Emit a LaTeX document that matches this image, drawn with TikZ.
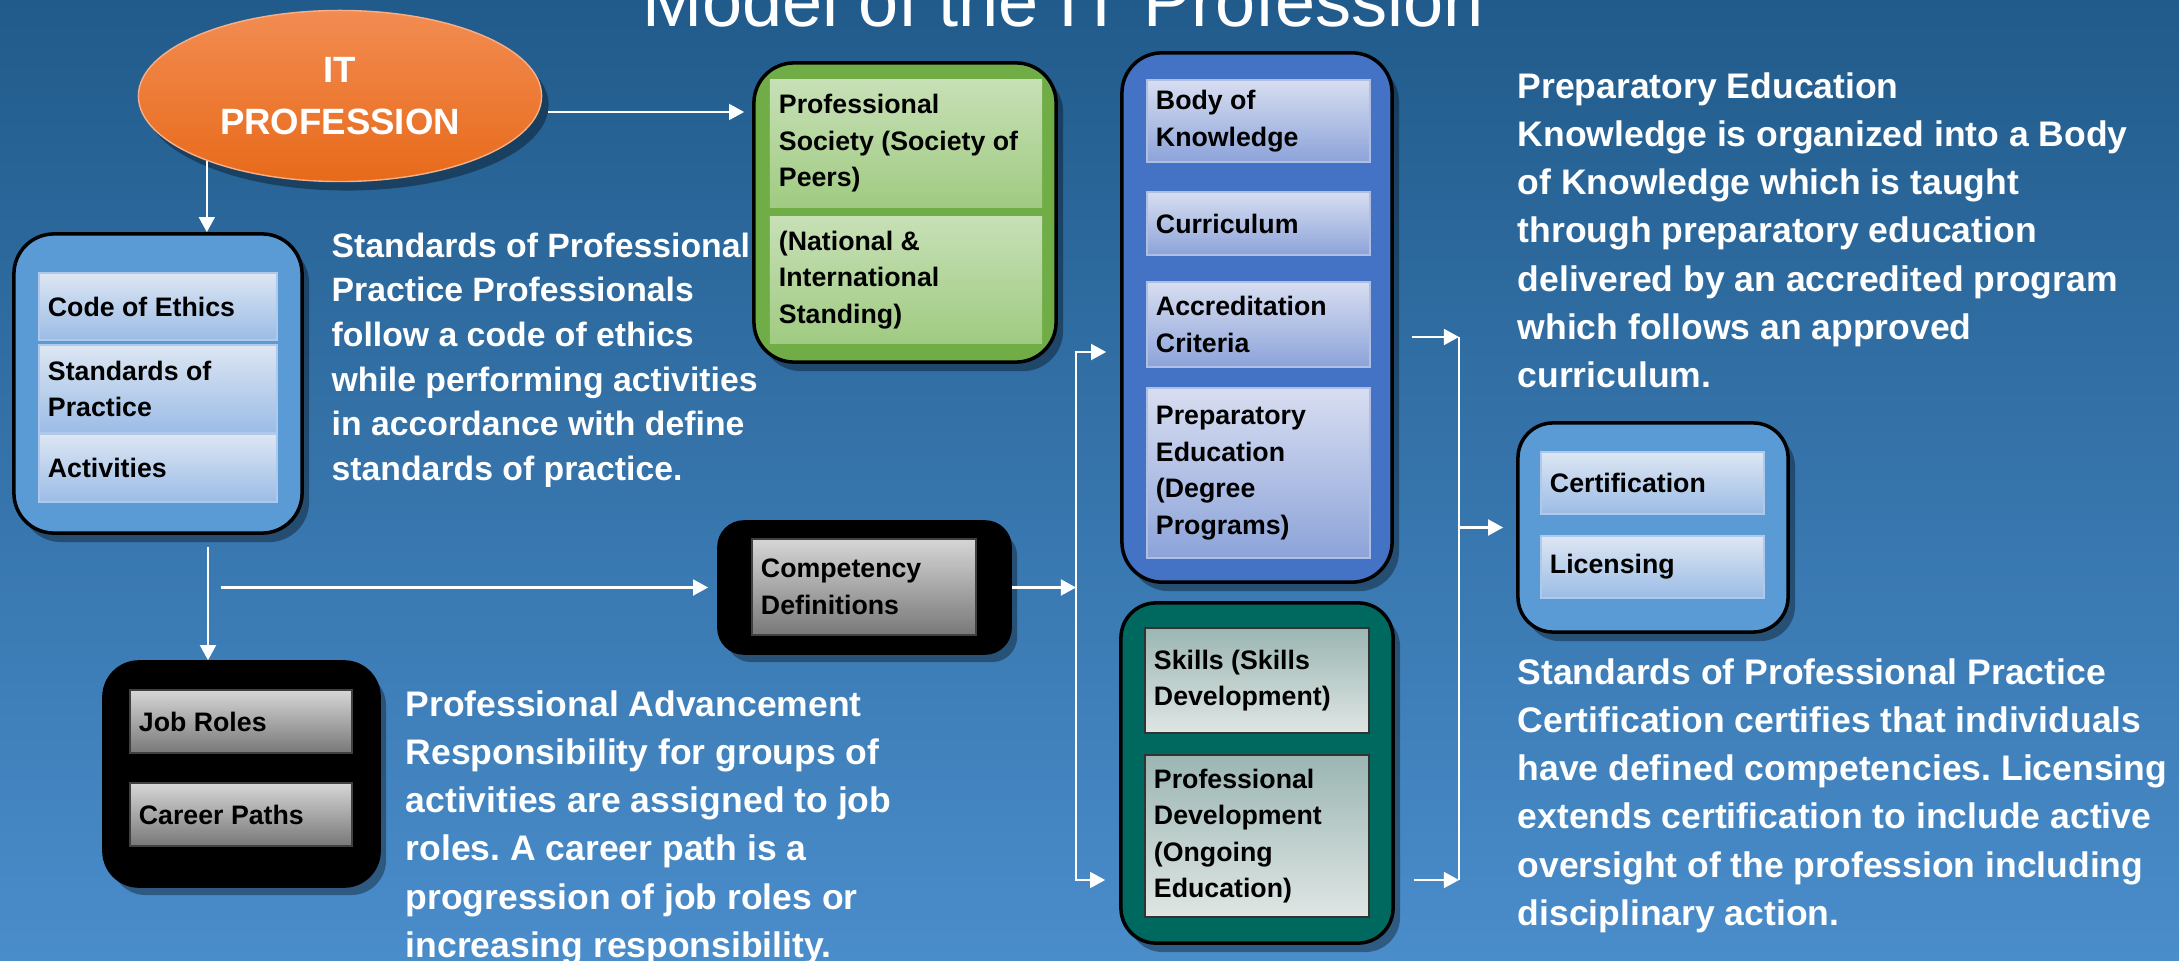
\documentclass[tikz,border=0pt]{standalone}
\usepackage{fontspec}
\setmainfont{Liberation Sans}
\usetikzlibrary{shapes.geometric, arrows.meta, shadows}

\definecolor{bgtop}{HTML}{215B8B}
\definecolor{bgbottom}{HTML}{4A8DCB}
\definecolor{orangetop}{HTML}{F28C52}
\definecolor{orangebottom}{HTML}{E86A1A}
\definecolor{paleblue}{HTML}{5B9BD5}
\definecolor{lighttop}{HTML}{DDE6F3}
\definecolor{lightbottom}{HTML}{9BBCE6}
\definecolor{socgreen}{HTML}{70AD47}
\definecolor{greentop}{HTML}{C7E0B6}
\definecolor{greenbottom}{HTML}{A0CB82}
\definecolor{knowblue}{HTML}{4472C4}
\definecolor{lilactop}{HTML}{D8DEF1}
\definecolor{lilacbottom}{HTML}{8CA3D9}
\definecolor{greytop}{HTML}{D6D6D6}
\definecolor{greybottom}{HTML}{787878}
\definecolor{skillteal}{HTML}{00695F}
\definecolor{tealtop}{HTML}{9BB6B3}
\definecolor{tealbottom}{HTML}{DFE6E4}

% no hyphenation inside the boxes
\hyphenpenalty=10000
\exhyphenpenalty=10000
\frenchspacing

\begin{document}
\begin{tikzpicture}[x=0.01cm, y=-0.01cm,
  group/.style={draw=black, line width=1pt, rounded corners=0.4cm,
    drop shadow={shadow xshift=0.07cm, shadow yshift=-0.09cm, opacity=0.35, fill=black}},
  item/.style={rectangle, align=flush left, inner xsep=0.09cm, inner ysep=0,
    font=\bfseries\fontsize{7.6}{10.4}\selectfont},
  lightitem/.style={item, top color=lighttop, bottom color=lightbottom, draw=lightbottom!80!white, line width=0.4pt},
  greenitem/.style={item, top color=greentop, bottom color=greenbottom},
  lilacitem/.style={item, top color=lilactop, bottom color=lilacbottom, draw=lilacbottom!70!white, line width=0.4pt},
  greyitem/.style={item, top color=greytop, bottom color=greybottom, draw=black!75, line width=0.6pt},
  tealitem/.style={item, top color=tealtop, bottom color=tealbottom, draw=black!80, line width=0.6pt},
  note/.style={anchor=north west, align=left, inner sep=0, text=white,
    font=\bfseries\fontsize{10.1}{13.7}\selectfont},
  link/.style={draw=white, line width=0.7pt, -{Triangle[length=4.3pt, width=4.5pt]}}
]
  % background and page size
  \path[top color=bgtop, bottom color=bgbottom] (0,0) rectangle (2179,961);
  \useasboundingbox (0,0) rectangle (2179,961);

  \node[anchor=base, text=white, font=\fontsize{20.5}{24}\selectfont] (title) at (1063,27) {Model of the IT Profession};

  \node[ellipse, minimum width=4.03cm, minimum height=1.71cm, inner sep=0,
    top color=orangetop, bottom color=orangebottom, draw=orangetop!70!white,
    drop shadow={shadow xshift=0.07cm, shadow yshift=-0.09cm, opacity=0.35, fill=black},
    text=white, align=center, font=\bfseries\fontsize{10.4}{14.8}\selectfont] (itpro) at (340,96) {IT\\PROFESSION};

  % code of ethics group
  \node[group, fill=paleblue, minimum width=2.88cm, minimum height=2.99cm] (ethics) at (158,383.5) {};
  \node[lightitem, text width=2.2cm, minimum height=0.67cm] (code) at (158,306.5) {Code of Ethics};
  \node[lightitem, text width=2.2cm, minimum height=0.88cm] (practice) at (158,389) {Standards of Practice};
  \node[lightitem, text width=2.2cm, minimum height=0.68cm] (activities) at (158,468) {Activities};

  % professional society
  \node[group, fill=socgreen, minimum width=3.02cm, minimum height=2.99cm] (society) at (905,212.5) {};
  \node[greenitem, text width=2.54cm, minimum height=1.27cm] (peers) at (906,143.5) {Professional Society (Society of Peers)};
  \node[greenitem, text width=2.54cm, minimum height=1.26cm] (standing) at (906,280) {(National \& International Standing)};

  % preparatory education
  \node[group, fill=knowblue, minimum width=2.70cm, minimum height=5.29cm] (know) at (1257,317.5) {};
  \node[lilacitem, text width=2.05cm, minimum height=0.82cm] (body) at (1258.5,121) {Body of Knowledge};
  \node[lilacitem, text width=2.05cm, minimum height=0.63cm] (curric) at (1258.5,223.5) {Curriculum};
  \node[lilacitem, text width=2.05cm, minimum height=0.85cm] (accred) at (1258.5,324.5) {Accreditation Criteria};
  \node[lilacitem, text width=2.05cm, minimum height=1.70cm] (degree) at (1258.5,473) {Preparatory Education (Degree Programs)};

  % competencies
  \node[group, fill=black, rounded corners=0.25cm, minimum width=2.91cm, minimum height=1.31cm] (comp) at (864.5,587.5) {};
  \node[greyitem, text width=2.06cm, minimum height=0.96cm] (compdef) at (864,587) {Competency Definitions};

  % advancement
  \node[group, fill=black, rounded corners=0.35cm, minimum width=2.75cm, minimum height=2.24cm] (jobs) at (241.5,774) {};
  \node[greyitem, text width=2.04cm, minimum height=0.63cm] (roles) at (241,721.5) {Job Roles};
  \node[greyitem, text width=2.04cm, minimum height=0.63cm] (paths) at (241,814.5) {Career Paths};

  % ongoing skills
  \node[group, fill=skillteal, rounded corners=0.35cm, minimum width=2.72cm, minimum height=3.40cm] (skill) at (1257,773) {};
  \node[tealitem, text width=2.06cm, minimum height=1.05cm] (skills) at (1257,680.5) {Skills (Skills Development)};
  \node[tealitem, text width=2.06cm, minimum height=1.62cm] (profdev) at (1257,836) {Professional Development (Ongoing Education)};

  % certification and licensing
  \node[group, fill=paleblue, rounded corners=0.35cm, minimum width=2.70cm, minimum height=2.09cm] (cert) at (1653,527.5) {};
  \node[lightitem, text width=2.05cm, minimum height=0.62cm] (certif) at (1652.5,483) {Certification};
  \node[lightitem, text width=2.05cm, minimum height=0.62cm] (licens) at (1652.5,567) {Licensing};

  % descriptions
  \node[note, font=\bfseries\fontsize{9.6}{12.7}\selectfont] (ethicsnote) at (331,232)
    {Standards of Professional\\Practice Professionals\\follow a code of ethics\\while performing activities\\in accordance with define\\standards of practice.};
  \node[note] (prepnote) at (1517,72)
    {Preparatory Education\\Knowledge is organized into a Body\\of Knowledge which is taught\\through preparatory education\\delivered by an accredited program\\which follows an approved\\curriculum.};
  \node[note] (certnote) at (1517,658)
    {Standards of Professional Practice\\Certification certifies that individuals\\have defined competencies. Licensing\\extends certification to include active\\oversight of the profession including\\disciplinary action.};
  \node[note] (jobsnote) at (405,690)
    {Professional Advancement\\Responsibility for groups of\\activities are assigned to job\\roles. A career path is a\\progression of job roles or\\increasing responsibility.};

  % connectors
  \coordinate (split) at (208,547);
  \coordinate (lt) at (1076,352);
  \coordinate (lb) at (1076,880);
  \coordinate (rt) at (1459,337);
  \coordinate (rb) at (1459,880);

  \draw[link] ([xshift=0.06cm]itpro.east |- 0,112) -- ([xshift=-0.08cm]society.west |- 0,112);
  \draw[link] (itpro.206) -- (itpro.206 |- ethics.north);
  \draw[link] (split) -- (split |- jobs.north);
  \draw[link] ([xshift=0.13cm]split |- comp.west) -- ([xshift=-0.09cm]comp.west);
  \draw[link] (comp.east) -- (comp.east -| lt);
  \draw[link, {Triangle[length=4.3pt, width=4.5pt]}-{Triangle[length=4.3pt, width=4.5pt]}]
    ([xshift=-0.14cm]know.west |- lt) -- (lt) -- (lb) -- ([xshift=-0.14cm]skill.west |- lb);
  \draw[link] ([xshift=0.18cm]know.east |- rt) -- (rt);
  \draw[link] ([xshift=0.19cm]skill.east |- rb) -- (rb);
  \draw[draw=white, line width=0.7pt] (rt) -- (rb);
  \draw[link] (rt |- cert.west) -- ([xshift=-0.13cm]cert.west);
\end{tikzpicture}
\end{document}
